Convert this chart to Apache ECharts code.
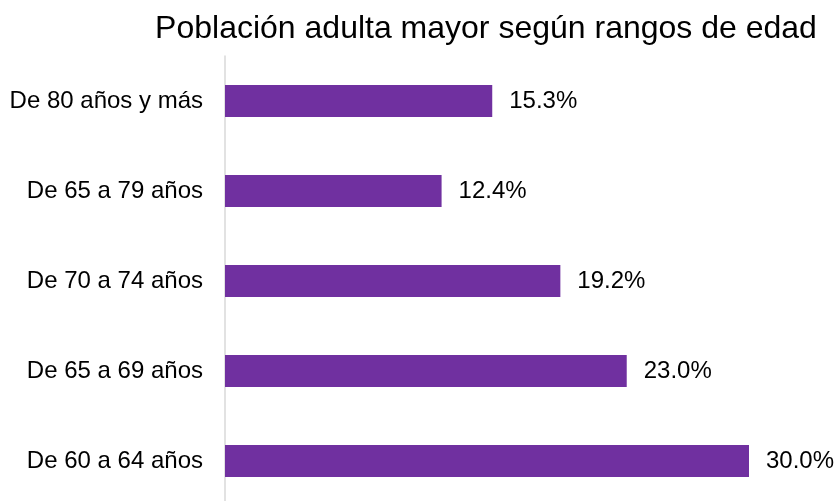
<!DOCTYPE html>
<html>
<head>
<meta charset="utf-8">
<script src="https://cdn.jsdelivr.net/npm/echarts@6/dist/echarts.min.js"></script>
<style>html,body{margin:0;padding:0;background:#fff;overflow:hidden;}#c{width:834px;height:506px;}</style>
</head>
<body>
<div id="c"></div>
<script>
const title = "Población adulta mayor según rangos de edad";
const categories = ["De 60 a 64 años", "De 65 a 69 años", "De 70 a 74 años", "De 65 a 79 años", "De 80 años y más"];
const values = [30.0, 23.0, 19.2, 12.4, 15.3];

const chart = echarts.init(document.getElementById('c'), null, {renderer: 'canvas'});
chart.setOption({
  animation: false,
  backgroundColor: '#ffffff',
  textStyle: {fontFamily: 'Liberation Sans, Arial, sans-serif'},
  title: {
    text: title,
    left: 481,
    textAlign: 'center',
    top: 8,
    textStyle: {fontFamily: 'Liberation Sans, Arial, sans-serif', fontSize: 32, fontWeight: 'normal', color: '#000000'}
  },
  grid: {left: 225, right: 85, top: 56, bottom: 0, containLabel: false},
  xAxis: {
    type: 'value', min: 0, max: 30,
    show: false
  },
  yAxis: {
    type: 'category',
    data: categories,
    axisLine: {show: true, lineStyle: {color: '#D9D9D9', width: 1.5}},
    axisTick: {show: false},
    axisLabel: {color: '#000000', fontSize: 24, margin: 22, fontFamily: 'Liberation Sans, Arial, sans-serif'},
    splitLine: {show: false}
  },
  series: [{
    type: 'bar',
    data: values,
    barWidth: 32,
    itemStyle: {color: '#7030A0'},
    label: {
      show: true, position: 'right', distance: 17,
      color: '#000000', fontSize: 24, fontFamily: 'Liberation Sans, Arial, sans-serif',
      formatter: p => p.value.toFixed(1) + '%'
    }
  }]
});
</script>
</body>
</html>
